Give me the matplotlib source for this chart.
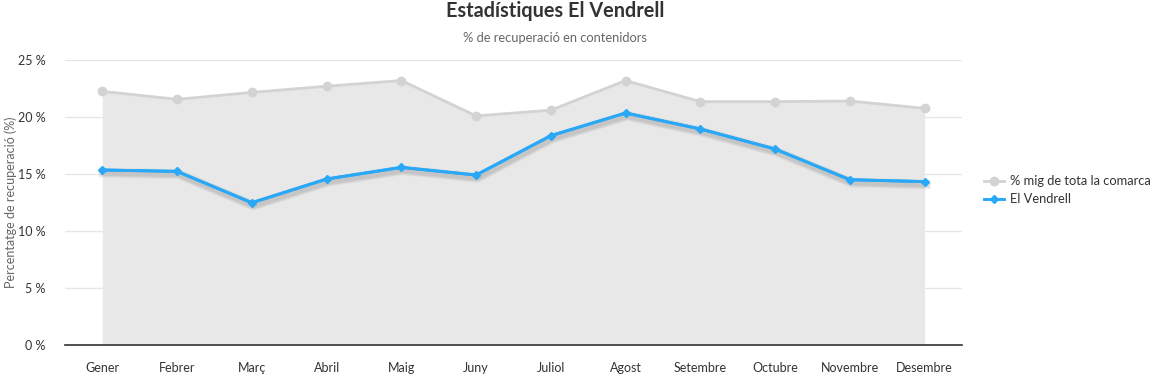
import matplotlib
matplotlib.use("Agg")
import matplotlib.pyplot as plt
import matplotlib.patheffects as pe
from matplotlib.ticker import FuncFormatter

plt.rcParams['font.family'] = ['Lato', 'DejaVu Sans']

months = ["Gener", "Febrer", "Març", "Abril", "Maig", "Juny", "Juliol",
          "Agost", "Setembre", "Octubre", "Novembre", "Desembre"]
comarca = [22.25, 21.55, 22.16, 22.7, 23.2, 20.1, 20.6, 23.2, 21.35, 21.35, 21.4, 20.76]
vendrell = [15.35, 15.23, 12.48, 14.56, 15.58, 14.91, 18.36, 20.35, 18.95, 17.19, 14.5, 14.33]
yticks = [0, 5, 10, 15, 20, 25]

fig = plt.figure(figsize=(11.54, 3.76), dpi=100)
ax = fig.add_axes([0.0563, 0.0824, 0.7773, 0.758])

x = list(range(len(months)))
ax.fill_between(x, 0, comarca, color="#e8e8e8", lw=0, zorder=1)
ax.plot(x, comarca, color="#d3d3d3", lw=2, marker="o", ms=6,
        markerfacecolor="#d3d3d3", markeredgecolor="#d3d3d3", zorder=3,
        label="% mig de tota la comarca")
# soft shadow for blue series
shadows = [pe.SimpleLineShadow(offset=(1, -2), shadow_color="#000000", alpha=0.05, linewidth=w)
           for w in (7, 5.5, 4)]
ax.plot(x, vendrell, color="#2aa8f8", lw=2.1, zorder=3.5,
        path_effects=shadows + [pe.Normal()])
ax.plot(x, vendrell, color="#2aa8f8", lw=2.1, marker="D", ms=4,
        markerfacecolor="#2aa8f8", markeredgecolor="#2aa8f8", zorder=4,
        label="El Vendrell")

ax.set_xlim(-0.5, len(months) - 0.5)
ax.set_ylim(0, 25)
ax.set_yticks(yticks)
ax.yaxis.set_major_formatter(FuncFormatter(lambda v, p: f"{int(v)} %"))
ax.set_xticks(x)
ax.set_xticklabels(months)
ax.grid(axis="y", color="#e6e6e6", lw=1, zorder=0)
ax.set_axisbelow(True)
for s in ["top", "right", "left"]:
    ax.spines[s].set_visible(False)
ax.spines["bottom"].set_color("#333333")
ax.spines["bottom"].set_linewidth(1.2)
ax.tick_params(axis="both", length=0, labelsize=9, colors="#333333")
ax.tick_params(axis="x", pad=12)
ax.tick_params(axis="y", pad=14)
ax.set_ylabel("Percentatge de recuperació (%)", fontsize=9, color="#666666")
ax.yaxis.set_label_coords(-0.054, 0.5)

fig.text(0.481, 0.972, "Estadístiques El Vendrell", ha="center", va="center",
         fontsize=14.3, fontweight="bold", color="#333333")
fig.text(0.481, 0.899, "% de recuperació en contenidors", ha="center", va="center",
         fontsize=9.3, color="#666666")

leg = fig.legend(loc="center left", bbox_to_anchor=(0.843, 0.494), frameon=False,
                 fontsize=9.3, handlelength=1.5, handletextpad=0.5, labelspacing=0.5,
                 labelcolor="#333333")

fig.savefig("out.png", dpi=100)
